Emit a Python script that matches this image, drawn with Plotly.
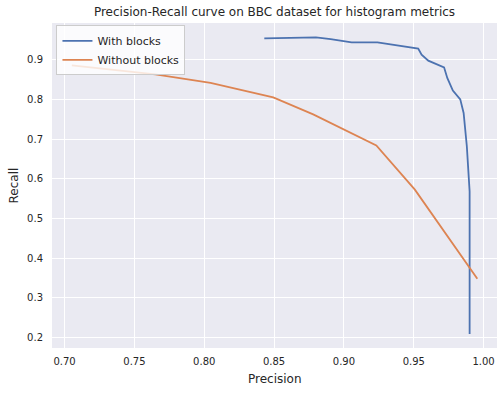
import plotly.graph_objects as go

with_prec = [0.843, 0.880, 0.8905, 0.9055, 0.924, 0.9532, 0.9556, 0.9604, 0.9717, 0.974, 0.978, 0.9833, 0.9857, 0.988, 0.990, 0.990]
with_rec = [0.9537, 0.956, 0.952, 0.9436, 0.9436, 0.9277, 0.9126, 0.8975, 0.8806, 0.854, 0.822, 0.800, 0.7657, 0.6817, 0.568, 0.2085]

without_prec = [0.7052, 0.765, 0.8045, 0.8494, 0.878, 0.9232, 0.9508, 0.9955]
without_rec = [0.8856, 0.8627, 0.8413, 0.805, 0.762, 0.684, 0.5725, 0.3476]

x_ticks = [0.70, 0.75, 0.80, 0.85, 0.90, 0.95, 1.00]
x_tick_labels = ["0.70", "0.75", "0.80", "0.85", "0.90", "0.95", "1.00"]
y_ticks = [0.2, 0.3, 0.4, 0.5, 0.6, 0.7, 0.8, 0.9]
y_tick_labels = ["0.2", "0.3", "0.4", "0.5", "0.6", "0.7", "0.8", "0.9"]

W, H = 504, 393
L, R, T, B = 52, 7, 23, 45

fig = go.Figure()
fig.add_trace(go.Scatter(x=with_prec, y=with_rec, mode="lines", name="With blocks",
                         line=dict(color="#4C72B0", width=1.8)))
fig.add_trace(go.Scatter(x=without_prec, y=without_rec, mode="lines", name="Without blocks",
                         line=dict(color="#DD8452", width=1.8)))

font_family = "DejaVu Sans"
fig.update_layout(
    width=W, height=H,
    margin=dict(l=L, r=R, t=T, b=B, autoexpand=False),
    paper_bgcolor="white",
    plot_bgcolor="#EAEAF2",
    font=dict(family=font_family, color="#262626", size=10),
    title=dict(text="Precision-Recall curve on BBC dataset for histogram metrics",
               x=(L + W - R) / 2 / W, xanchor="center", y=1 - 12 / H, yanchor="middle",
               font=dict(size=12, color="#262626")),
    legend=dict(x=0.01, y=0.993, xanchor="left", yanchor="top",
                bgcolor="rgba(255,255,255,0.8)", bordercolor="#CCCCCC", borderwidth=1,
                font=dict(size=11, color="#262626"), tracegroupgap=0, itemwidth=30),
    showlegend=True,
    annotations=[
        dict(text="Precision", xref="paper", yref="paper", x=0.5, y=-(379 - (H - B)) / (H - T - B),
             xanchor="center", yanchor="middle", showarrow=False, font=dict(size=12, color="#262626")),
        dict(text="Recall", xref="paper", yref="paper", x=-(L - 13) / (W - L - R), y=0.5,
             xanchor="center", yanchor="middle", textangle=-90, showarrow=False,
             font=dict(size=12, color="#262626")),
    ],
)
fig.update_xaxes(range=[0.691, 1.0096], tickvals=x_ticks, ticktext=x_tick_labels,
                 showgrid=True, gridcolor="white", gridwidth=1, zeroline=False,
                 showline=False, ticks="", ticklabelstandoff=6, automargin=False)
fig.update_yaxes(range=[0.1733, 0.9924], tickvals=y_ticks, ticktext=y_tick_labels,
                 showgrid=True, gridcolor="white", gridwidth=1, zeroline=False,
                 showline=False, ticks="", ticklabelstandoff=8, automargin=False)

fig.write_html("out.html", config={"displayModeBar": False},
               post_script="document.body.style.margin='0';document.body.style.padding='0';")
